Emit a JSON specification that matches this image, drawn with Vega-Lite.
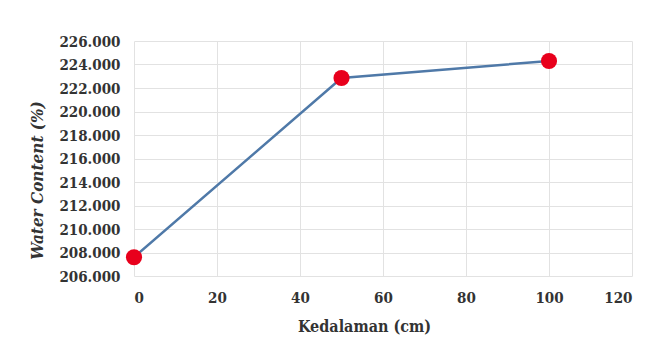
{
  "$schema": "https://vega.github.io/schema/vega-lite/v6.json",
  "width": 498,
  "height": 235,
  "autosize": "none",
  "padding": {"left": 134, "top": 41, "right": 36, "bottom": 67},
  "background": "white",
  "config": {
    "view": {"stroke": null},
    "axis": {
      "labelFont": "DejaVu Serif Condensed, DejaVu Serif",
      "labelFontWeight": "bold",
      "labelFontSize": 15,
      "labelColor": "#333333",
      "titleFont": "DejaVu Serif Condensed, DejaVu Serif",
      "titleFontWeight": "bold",
      "titleFontSize": 16,
      "titleColor": "#333333",
      "gridColor": "#e2e2e2",
      "gridWidth": 1,
      "ticks": false,
      "domain": false
    }
  },
  "data": {
    "values": [
      {"depth": 0, "wc": 207.6},
      {"depth": 50, "wc": 222.85},
      {"depth": 100, "wc": 224.3}
    ]
  },
  "encoding": {
    "x": {
      "field": "depth",
      "type": "quantitative",
      "scale": {"domain": [0, 120], "nice": false},
      "axis": {
        "values": [0, 20, 40, 60, 80, 100, 120],
        "title": "Kedalaman (cm)",
        "labelPadding": 14,
        "titlePadding": 13,
        "titleX": 230
      }
    },
    "y": {
      "field": "wc",
      "type": "quantitative",
      "scale": {"domain": [206, 226], "nice": false, "zero": false},
      "axis": {
        "values": [206, 208, 210, 212, 214, 216, 218, 220, 222, 224, 226],
        "format": ".3f",
        "title": "Water Content (%)",
        "titleFontStyle": "italic",
        "titleFontSize": 17,
        "titleY": 139,
        "labelPadding": 14,
        "titlePadding": 12
      }
    }
  },
  "layer": [
    {
      "mark": {"type": "line", "color": "#4f79a8", "strokeWidth": 2.5}
    },
    {
      "mark": {"type": "point", "filled": true, "shape": "circle", "size": 260, "color": "#e8001c", "opacity": 1}
    }
  ]
}
